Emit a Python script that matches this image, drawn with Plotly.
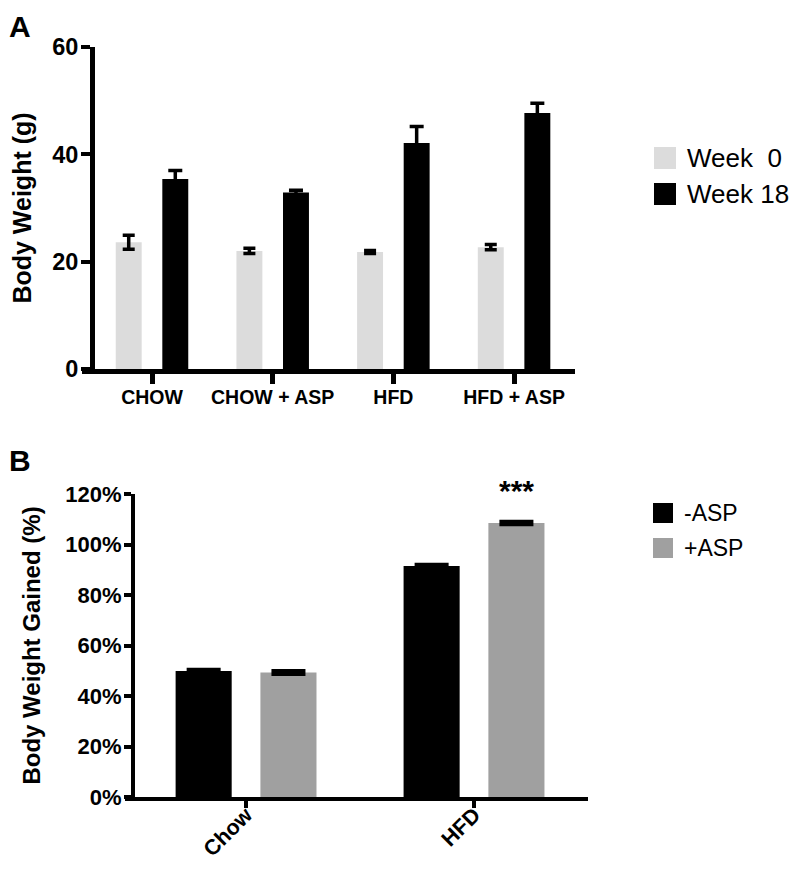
import plotly.graph_objects as go

# ---------------- Data ----------------
groups_a = ["CHOW", "CHOW + ASP", "HFD", "HFD + ASP"]
series_a = ["Week  0", "Week 18"]
week0_mean = [23.6, 22.0, 21.8, 22.7]
week0_err = [1.3, 0.5, 0.3, 0.5]
week18_mean = [35.4, 32.9, 42.1, 47.7]
week18_err = [1.6, 0.4, 3.1, 1.8]
yticks_a = [0, 20, 40, 60]

groups_b = ["Chow", "HFD"]
series_b = ["-ASP", "+ASP"]
minus_asp = [49.9, 91.5]
minus_asp_err = [0.5, 0.5]
plus_asp = [49.3, 108.5]
plus_asp_err = [0.6, 0.5]
yticks_b = [0, 20, 40, 60, 80, 100, 120]
yticklabels_b = [f"{v}%" for v in yticks_b]
signif_label = "***"

# ---------------- Style ----------------
# page body has an 8px margin; size the figure so it fits the 800x870 window
OFF = 8
W, H = 800 - 2 * OFF, 870 - 2 * OFF
FONT = "Liberation Sans"
light = "#dcdcdc"
black = "#000000"
grey = "#a0a0a0"

def px(x):
    return (x - OFF) / W

def py(y):
    return 1 - (y - OFF) / H

# bar geometry (in category units)
WA, DA = 0.215, 0.193   # panel A bar width, centre offset
WB, DB = 0.246, 0.186   # panel B bar width, centre offset

fig = go.Figure()

# Panel A
fig.add_trace(go.Bar(x=groups_a, y=week0_mean, name=series_a[0], marker=dict(color=light, line=dict(width=0)),
                     width=WA, offset=-DA - WA / 2,
                     error_y=dict(type="data", array=week0_err, color=black, thickness=3.5, width=6),
                     xaxis="x", yaxis="y", showlegend=False))
fig.add_trace(go.Bar(x=groups_a, y=week18_mean, name=series_a[1], marker=dict(color=black, line=dict(width=0)),
                     width=WA, offset=DA - WA / 2,
                     error_y=dict(type="data", array=week18_err, color=black, thickness=3.5, width=7),
                     xaxis="x", yaxis="y", showlegend=False))

# Panel B
fig.add_trace(go.Bar(x=groups_b, y=minus_asp, name=series_b[0], marker=dict(color=black, line=dict(width=0)),
                     width=WB, offset=-DB - WB / 2,
                     error_y=dict(type="data", array=minus_asp_err, color=black, thickness=4, width=17),
                     xaxis="x2", yaxis="y2", showlegend=False))
fig.add_trace(go.Bar(x=groups_b, y=plus_asp, name=series_b[1], marker=dict(color=grey, line=dict(width=0)),
                     width=WB, offset=DB - WB / 2,
                     error_y=dict(type="data", array=plus_asp_err, color=black, thickness=4, width=17),
                     xaxis="x2", yaxis="y2", showlegend=False))

axis_common = dict(showgrid=False, zeroline=False, showline=True, linecolor=black,
                   ticks="outside", tickcolor=black, automargin=False)

fig.update_layout(
    width=W, height=H,
    margin=dict(l=0, r=0, t=0, b=0, autoexpand=False),
    paper_bgcolor="white", plot_bgcolor="white",
    barmode="overlay",
    font=dict(family=FONT, color=black),
    xaxis=dict(**axis_common, linewidth=5, tickwidth=5, ticklen=10,
               domain=[px(82), px(575)], anchor="y",
               type="category", range=[-0.58, 3.505], ticklabelstandoff=-3,
               tickfont=dict(family=FONT, size=19.5, weight="bold", color=black)),
    yaxis=dict(**axis_common, linewidth=5, tickwidth=4, ticklen=9,
               domain=[py(369), py(47)], anchor="free", position=px(92),
               range=[0, 60], tickvals=yticks_a, ticklabelstandoff=-2,
               tickfont=dict(family=FONT, size=23.5, weight="bold", color=black),
               title=dict(text="Body Weight (g)", standoff=16,
                          font=dict(family=FONT, size=25, weight="bold", color=black))),
    xaxis2=dict(**axis_common, linewidth=3.5, tickwidth=3.5, ticklen=7,
                domain=[px(125), px(588)], anchor="y2",
                type="category", range=[-0.531, 1.5], tickangle=-45, ticklabelstandoff=-14,
                tickfont=dict(family=FONT, size=21.5, weight="bold", color=black)),
    yaxis2=dict(**axis_common, linewidth=4, tickwidth=3.5, ticklen=7,
                domain=[py(797), py(494)], anchor="free", position=px(133),
                range=[0, 120], tickvals=yticks_b, ticktext=yticklabels_b, ticklabelstandoff=-2,
                tickfont=dict(family=FONT, size=22, weight="bold", color=black),
                title=dict(text="Body Weight Gained (%)", standoff=17,
                           font=dict(family=FONT, size=24, weight="bold", color=black))),
)

# Panel letters
fig.add_annotation(x=px(7), y=py(8), xref="paper", yref="paper", text="<b>A</b>", showarrow=False,
                   xanchor="left", yanchor="top", font=dict(family=FONT, size=30, color=black))
fig.add_annotation(x=px(7), y=py(442), xref="paper", yref="paper", text="<b>B</b>", showarrow=False,
                   xanchor="left", yanchor="top", font=dict(family=FONT, size=30, color=black))

# Significance marker above HFD +ASP bar
fig.add_annotation(x=1 + DB, y=plus_asp[1] + plus_asp_err[1], xref="x2", yref="y2",
                   text="<b>" + signif_label + "</b>", showarrow=False, yanchor="bottom", yshift=13,
                   font=dict(family=FONT, size=30, color=black))

# Manual legends (large square swatches)
def legend(items, colors, x0, y_tops, size, fsize):
    for name, col, yt in zip(items, colors, y_tops):
        fig.add_shape(type="rect", xref="paper", yref="paper",
                      x0=px(x0), x1=px(x0 + size), y0=py(yt + size), y1=py(yt),
                      fillcolor=col, line=dict(width=0))
        fig.add_annotation(x=px(x0 + size + 9), y=py(yt + size / 2), xref="paper", yref="paper",
                           text=name, showarrow=False, xanchor="left", yanchor="middle",
                           font=dict(family=FONT, size=fsize, color=black))

legend(series_a, [light, black], 654, [147, 183], 22, 26)
legend(series_b, [black, grey], 653, [503, 538], 20, 23)

fig.write_html("out.html")
